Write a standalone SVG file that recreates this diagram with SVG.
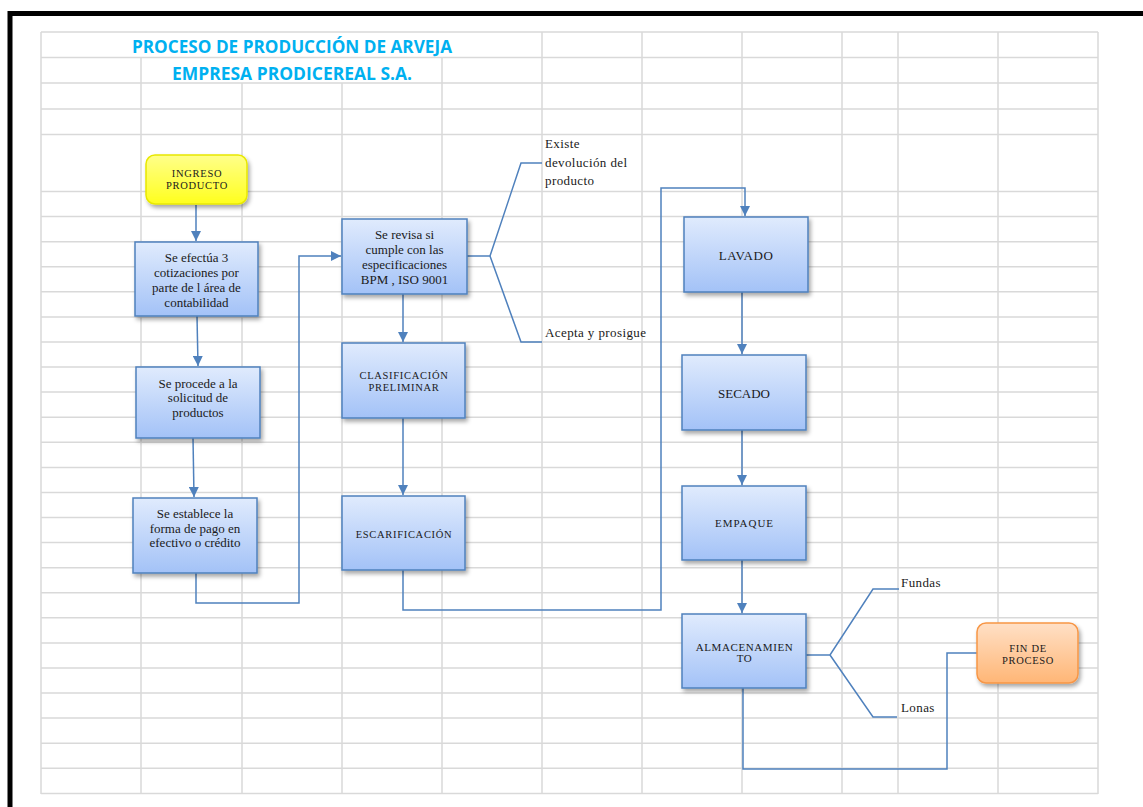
<svg xmlns="http://www.w3.org/2000/svg" width="1143" height="807" viewBox="0 0 1143 807">
<style>
.grid{stroke:#d9d9d9;stroke-width:1.5;fill:none}
.box{fill:url(#gb);stroke:#4f81bd;stroke-width:1.5;filter:url(#sh)}
.t{font-family:"Liberation Serif","Times New Roman",serif;fill:#1a1a1a;text-anchor:middle}
.c{font-size:10.5px;letter-spacing:0.7px}
.lbl{font-family:"Liberation Serif","Times New Roman",serif;fill:#1a1a1a;font-size:13px;letter-spacing:0.4px}
.con{fill:none;stroke:#4f81bd;stroke-width:1.5}
.title{font-family:"Open Sans",Lato,sans-serif;font-weight:bold;fill:#00b0f0;text-anchor:middle}
</style>
<defs>
<linearGradient id="gb" x1="0" y1="0" x2="0" y2="1"><stop offset="0" stop-color="#e0ebfd"/><stop offset="1" stop-color="#a3c2f7"/></linearGradient>
<linearGradient id="gy" x1="0" y1="0" x2="0" y2="1"><stop offset="0" stop-color="#ffff8a"/><stop offset="1" stop-color="#ffff1e"/></linearGradient>
<linearGradient id="go" x1="0" y1="0" x2="0" y2="1"><stop offset="0" stop-color="#ffe0c6"/><stop offset="1" stop-color="#ffb676"/></linearGradient>
<filter id="sh" x="-20%" y="-20%" width="150%" height="150%"><feDropShadow dx="2" dy="3" stdDeviation="2" flood-color="#000" flood-opacity="0.35"/></filter>
<marker id="ar" markerUnits="userSpaceOnUse" markerWidth="10" markerHeight="10" refX="10" refY="5" orient="auto"><path d="M0,0 L10,5 L0,10 z" fill="#4f81bd"/></marker>
</defs>
<rect width="1143" height="807" fill="#fff"/>
<path d="M10,807 V13.5 H1143" fill="none" stroke="#000" stroke-width="5"/>
<g id="grid" class="grid">
<path d="M41,32H1098M41,57.5H1098M41,83H1098M41,109H1098M41,134.5H1098M41,191.5H1098M41,216.6H1098M41,241.7H1098M41,266.7H1098M41,291.8H1098M41,316.9H1098M41,342H1098M41,367H1098M41,392.1H1098M41,417.2H1098M41,442.3H1098M41,467.4H1098M41,492.4H1098M41,517.5H1098M41,542.6H1098M41,567.7H1098M41,592.8H1098M41,617.8H1098M41,642.9H1098M41,668H1098M41,693.1H1098M41,718.1H1098M41,743.2H1098M41,768.3H1098M41,793.4H1098"/>
<path d="M41,32V794M141,57.5V794M242,83V794M342,83V794M442,57.5V794M542,32V794M642,32V794M742,32V794M842,32V794M898,32V794M998,32V794M1098,32V794"/>
</g>
<g id="titles">
<text class="title" x="292" y="53" font-size="17" textLength="320" lengthAdjust="spacingAndGlyphs">PROCESO DE PRODUCCIÓN DE ARVEJA</text>
<text class="title" x="292" y="79.5" font-size="17" textLength="240" lengthAdjust="spacingAndGlyphs">EMPRESA PRODICEREAL S.A.</text>
</g>
<g id="connectors">
<path class="con" d="M196,205 V241" marker-end="url(#ar)"/>
<path class="con" d="M197,316 L198,366" marker-end="url(#ar)"/>
<path class="con" d="M193,438 L194,497" marker-end="url(#ar)"/>
<path class="con" d="M196,573 V603 H299 V256 H341" marker-end="url(#ar)"/>
<path class="con" d="M467,256 H490 L521,163 H542 M490,256 L521,342 H542"/>
<path class="con" d="M403,294 V342" marker-end="url(#ar)"/>
<path class="con" d="M403,418 V495" marker-end="url(#ar)"/>
<path class="con" d="M403,570 V610 H661 V188 H745 V216" marker-end="url(#ar)"/>
<path class="con" d="M742,292 V354" marker-end="url(#ar)"/>
<path class="con" d="M742,430 V485" marker-end="url(#ar)"/>
<path class="con" d="M742,560 V613" marker-end="url(#ar)"/>
<path class="con" d="M806,655 H830 L873,589 H899 M830,655 L873,717 H897"/>
<path class="con" d="M743,688 V769 H947 V653 H977"/>
</g>
<g id="labels">
<text class="lbl" x="545" y="148">Existe</text>
<text class="lbl" x="545" y="166.5">devolución del</text>
<text class="lbl" x="545" y="185">producto</text>
<text class="lbl" x="545" y="337">Acepta y prosigue</text>
<text class="lbl" x="901" y="587">Fundas</text>
<text class="lbl" x="901" y="712">Lonas</text>
</g>
<g id="n-ingreso">
<rect x="146" y="155" width="101" height="49" rx="9" fill="url(#gy)" stroke="#e8e800" stroke-width="1.5" filter="url(#sh)"/>
<text class="t c" x="197" y="177">INGRESO</text>
<text class="t c" x="197" y="189">PRODUCTO</text>
</g>
<g id="n-cotizaciones">
<rect class="box" x="135" y="242" width="123" height="74"/>
<text class="t" font-size="13" x="196.5" y="261.5">Se efectúa 3</text>
<text class="t" font-size="13" x="196.5" y="276.5">cotizaciones por</text>
<text class="t" font-size="13" x="196.5" y="291.5">parte de l área de</text>
<text class="t" font-size="13" x="196.5" y="307">contabilidad</text>
</g>
<g id="n-solicitud">
<rect class="box" x="136" y="367" width="124" height="71"/>
<text class="t" font-size="13" x="198" y="387.5">Se procede  a la</text>
<text class="t" font-size="13" x="198" y="402">solicitud de</text>
<text class="t" font-size="13" x="198" y="416.5">productos</text>
</g>
<g id="n-pago">
<rect class="box" x="133" y="498" width="124" height="75"/>
<text class="t" font-size="13" x="195" y="517.5">Se establece la</text>
<text class="t" font-size="13" x="195" y="532.5">forma de pago en</text>
<text class="t" font-size="13" x="195" y="547">efectivo o crédito</text>
</g>
<g id="n-revisa">
<rect class="box" x="342" y="219" width="125" height="75"/>
<text class="t" font-size="13" x="404.5" y="238.5">Se revisa si</text>
<text class="t" font-size="13" x="404.5" y="253.5">cumple con las</text>
<text class="t" font-size="13" x="404.5" y="268.5">especificaciones</text>
<text class="t" font-size="13" x="404.5" y="283.5">BPM , ISO 9001</text>
</g>
<g id="n-clasificacion">
<rect class="box" x="342" y="343" width="123" height="75"/>
<text class="t c" x="404" y="378.5">CLASIFICACIÓN</text>
<text class="t c" x="404" y="391">PRELIMINAR</text>
</g>
<g id="n-escarificacion">
<rect class="box" x="342" y="496" width="123" height="74"/>
<text class="t c" x="404" y="537.5">ESCARIFICACIÓN</text>
</g>
<g id="n-lavado">
<rect class="box" x="684" y="217" width="124" height="75"/>
<text class="t" font-size="13" x="746" y="259.5" letter-spacing="0.5">LAVADO</text>
</g>
<g id="n-secado">
<rect class="box" x="682" y="355" width="124" height="75"/>
<text class="t" font-size="13" x="744" y="397.5">SECADO</text>
</g>
<g id="n-empaque">
<rect class="box" x="682" y="486" width="124" height="74"/>
<text class="t" font-size="11" x="744.5" y="527" letter-spacing="1">EMPAQUE</text>
</g>
<g id="n-almacenamiento">
<rect class="box" x="682" y="614" width="124" height="74"/>
<text class="t" font-size="11" x="744.5" y="650.5" letter-spacing="0.6">ALMACENAMIEN</text>
<text class="t" font-size="11" x="744.5" y="662" letter-spacing="0.6">TO</text>
</g>
<g id="n-fin">
<rect x="977" y="623" width="101" height="60" rx="9" fill="url(#go)" stroke="#f79646" stroke-width="1.5" filter="url(#sh)"/>
<text class="t c" x="1028" y="652">FIN DE</text>
<text class="t c" x="1028" y="664">PROCESO</text>
</g>
</svg>
